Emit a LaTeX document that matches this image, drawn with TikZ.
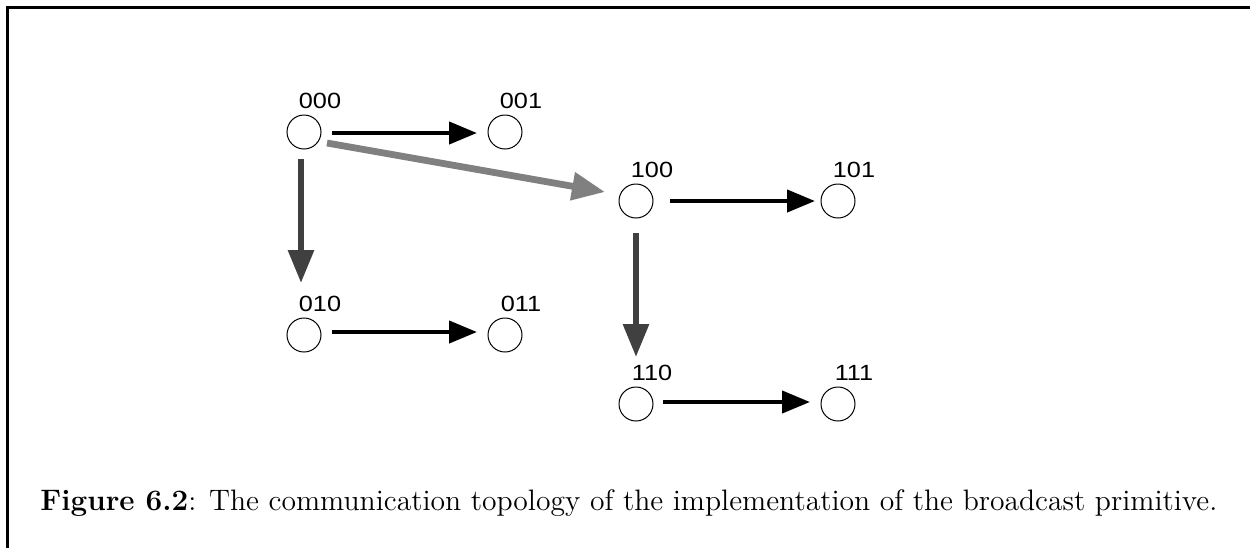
\documentclass[tikz,border=0pt]{standalone}
\usepackage{fontspec}
\newfontfamily\addrfont{Liberation Sans}
\usetikzlibrary{arrows.meta,calc}
\definecolor{darkgrey}{HTML}{404040}
\definecolor{midgrey}{HTML}{808080}

\begin{document}
\begin{tikzpicture}[x=0.5pt,y=-0.5pt,
  site/.style={circle,draw,line width=0.5pt,minimum size=17pt,inner sep=0pt},
  addr/.style={font=\addrfont\fontsize{11}{13}\selectfont,inner sep=0pt},
  local/.style={line width=2.1pt,-{Triangle[length=14pt,width=11pt]}},
  down/.style={line width=3pt,draw=darkgrey,-{Triangle[length=16.5pt,width=12.5pt]}},
  far/.style={line width=3.4pt,draw=midgrey,-{Triangle[length=16.5pt,width=13.5pt]}},
]
\useasboundingbox (0,0) rectangle (1250,548);

% frame
\draw[line width=1.3pt] (7.5,548) -- (7.5,7.5) -- (1250,7.5);

% hypercube sites
\node[site] (n000) at (304,132) {};
\node[site] (n001) at (505,132) {};
\node[site] (n100) at (636,201) {};
\node[site] (n101) at (838,201) {};
\node[site] (n010) at (304,335) {};
\node[site] (n011) at (505,335) {};
\node[site] (n110) at (636,404) {};
\node[site] (n111) at (838,404) {};

% addresses
\foreach \s in {000,001,100,101,010,011,110,111}
  \node[addr] (l\s) at ($(n\s)+(16,-31)$) {\scalebox{1.15}[1]{\s}};

% broadcast steps
\draw[far]   ($(n000)+(23,11)$) -- ($(n100)+(-31,-9)$);
\draw[down]  ($(n000)+(-3,27)$) -- ($(n010)+(-3,-52)$);
\draw[down]  ($(n100)+(0,32)$)  -- ($(n110)+(0,-47)$);
\draw[local] ($(n000)+(28,1)$)  -- ($(n001)+(-28,1)$);
\draw[local] ($(n010)+(28,-3)$) -- ($(n011)+(-28,-3)$);
\draw[local] ($(n100)+(34,0)$)  -- ($(n101)+(-23,0)$);
\draw[local] ($(n110)+(27,-2)$) -- ($(n111)+(-28,-2)$);

% caption
\node[anchor=base west,inner sep=0pt,font=\fontsize{14.8}{17}\selectfont] (cap) at (40,510)
  {\textbf{Figure 6.2}: The communication topology of the implementation of the broadcast primitive.};
\end{tikzpicture}
\end{document}
